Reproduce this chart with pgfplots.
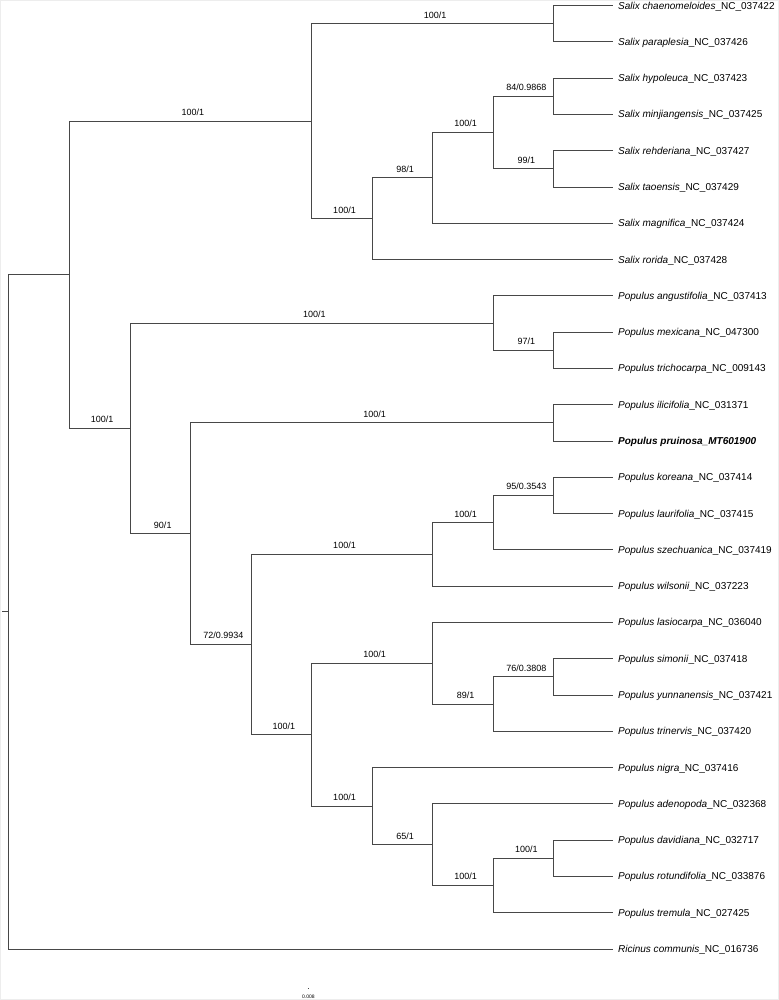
\documentclass[border=0pt]{standalone}
\usepackage{fontspec}
\setmainfont{Liberation Sans}
\usepackage{pgfplots}
\pgfplotsset{compat=1.18}

% branch style and label styles
\tikzset{
  br/.style={draw=black!72, line width=0.8bp},
  bs/.style={anchor=base, inner sep=0pt, font=\fontsize{9bp}{10bp}\selectfont, xshift=2.5bp},
  tip/.style={anchor=base west, inner sep=0pt, font=\fontsize{10bp}{12bp}\selectfont},
}
\newcommand{\leaf}[2]{\node[tip] at (axis cs:617,#1+3.6) {#2};}
\newcommand{\supp}[3]{\node[bs] at (axis cs:#1,#2-5.5) {#3};}

\begin{document}
\begin{tikzpicture}
\begin{axis}[
    width=779bp, height=1000bp, scale only axis,
    xmin=0, xmax=779, ymin=0, ymax=1000, y dir=reverse,
    hide axis, clip=false,
]
% faint frame of the original figure
\path[draw=black!7, line width=1bp] (axis cs:0.5,0.5) rectangle (axis cs:777,998);

% ---- Salix clade ----
\addplot[br] coordinates {(612,5.5) (553,5.5) (553,41.7) (612,41.7)};
\addplot[br] coordinates {(612,78.0) (553,78.0) (553,114.2) (612,114.2)};
\addplot[br] coordinates {(612,150.4) (553,150.4) (553,186.7) (612,186.7)};
\addplot[br] coordinates {(553,96.1) (493,96.1) (493,168.55) (553,168.55)};
\addplot[br] coordinates {(493,132.3) (432,132.3) (432,222.9) (612,222.9)};
\addplot[br] coordinates {(432,177.6) (372,177.6) (372,259.1) (612,259.1)};
\addplot[br] coordinates {(553,23.6) (311,23.6) (311,218.35) (372,218.35)};

% ---- Populus clade ----
\addplot[br] coordinates {(612,331.6) (553,331.6) (553,367.8) (612,367.8)};
\addplot[br] coordinates {(612,295.3) (493,295.3) (493,349.7) (553,349.7)};
\addplot[br] coordinates {(612,404.0) (553,404.0) (553,440.3) (612,440.3)};
\addplot[br] coordinates {(612,476.5) (553,476.5) (553,512.7) (612,512.7)};
\addplot[br] coordinates {(553,494.6) (493,494.6) (493,548.9) (612,548.9)};
\addplot[br] coordinates {(493,521.75) (432,521.75) (432,585.2) (612,585.2)};
\addplot[br] coordinates {(612,657.6) (553,657.6) (553,693.9) (612,693.9)};
\addplot[br] coordinates {(553,675.75) (493,675.75) (493,730.1) (612,730.1)};
\addplot[br] coordinates {(612,621.4) (432,621.4) (432,702.9) (493,702.9)};
\addplot[br] coordinates {(612,838.8) (553,838.8) (553,875.0) (612,875.0)};
\addplot[br] coordinates {(553,856.9) (493,856.9) (493,911.3) (612,911.3)};
\addplot[br] coordinates {(612,802.6) (432,802.6) (432,884.1) (493,884.1)};
\addplot[br] coordinates {(612,766.3) (372,766.3) (372,843.35) (432,843.35)};
\addplot[br] coordinates {(432,662.15) (311,662.15) (311,804.8) (372,804.8)};
\addplot[br] coordinates {(432,553.5) (251,553.5) (251,733.5) (311,733.5)};
\addplot[br] coordinates {(553,422.15) (190,422.15) (190,643.5) (251,643.5)};
\addplot[br] coordinates {(493,322.5) (130,322.5) (130,532.8) (190,532.8)};

% ---- backbone ----
\addplot[br] coordinates {(311,121.0) (69,121.0) (69,427.65) (130,427.65)};
\addplot[br] coordinates {(69,274.3) (8,274.3) (8,947.5) (612,947.5)};
\addplot[br] coordinates {(2,610.9) (8,610.9)};

% scale bar
\addplot[br] coordinates {(307.5,987) (308.5,987)};
\node[inner sep=0pt, font=\fontsize{5bp}{6bp}\selectfont] at (axis cs:308,995) {0.008};

% support values (bootstrap / posterior)
\supp{432}{23.6}{100/1}
\supp{523}{96.1}{84/0.9868}
\supp{523}{168.55}{99/1}
\supp{462.5}{132.3}{100/1}
\supp{402}{177.6}{98/1}
\supp{341.5}{218.35}{100/1}
\supp{190}{121.0}{100/1}
\supp{523}{349.7}{97/1}
\supp{311.5}{322.5}{100/1}
\supp{371.5}{422.15}{100/1}
\supp{523}{494.6}{95/0.3543}
\supp{462.5}{521.75}{100/1}
\supp{341.5}{553.5}{100/1}
\supp{523}{675.75}{76/0.3808}
\supp{462.5}{702.9}{89/1}
\supp{371.5}{662.15}{100/1}
\supp{523}{856.9}{100/1}
\supp{462.5}{884.1}{100/1}
\supp{402}{843.35}{65/1}
\supp{341.5}{804.8}{100/1}
\supp{281}{733.5}{100/1}
\supp{220.5}{643.5}{72/0.9934}
\supp{160}{532.8}{90/1}
\supp{99.5}{427.65}{100/1}

% tip labels
\leaf{5.5}{\textit{Salix chaenomeloides}\_NC\_037422}
\leaf{41.7}{\textit{Salix paraplesia}\_NC\_037426}
\leaf{78.0}{\textit{Salix hypoleuca}\_NC\_037423}
\leaf{114.2}{\textit{Salix minjiangensis}\_NC\_037425}
\leaf{150.4}{\textit{Salix rehderiana}\_NC\_037427}
\leaf{186.7}{\textit{Salix taoensis}\_NC\_037429}
\leaf{222.9}{\textit{Salix magnifica}\_NC\_037424}
\leaf{259.1}{\textit{Salix rorida}\_NC\_037428}
\leaf{295.3}{\textit{Populus angustifolia}\_NC\_037413}
\leaf{331.6}{\textit{Populus mexicana}\_NC\_047300}
\leaf{367.8}{\textit{Populus trichocarpa}\_NC\_009143}
\leaf{404.0}{\textit{Populus ilicifolia}\_NC\_031371}
\leaf{440.3}{\textbf{\textit{Populus pruinosa\_MT601900}}}
\leaf{476.5}{\textit{Populus koreana}\_NC\_037414}
\leaf{512.7}{\textit{Populus laurifolia}\_NC\_037415}
\leaf{548.9}{\textit{Populus szechuanica}\_NC\_037419}
\leaf{585.2}{\textit{Populus wilsonii}\_NC\_037223}
\leaf{621.4}{\textit{Populus lasiocarpa}\_NC\_036040}
\leaf{657.6}{\textit{Populus simonii}\_NC\_037418}
\leaf{693.9}{\textit{Populus yunnanensis}\_NC\_037421}
\leaf{730.1}{\textit{Populus trinervis}\_NC\_037420}
\leaf{766.3}{\textit{Populus nigra}\_NC\_037416}
\leaf{802.6}{\textit{Populus adenopoda}\_NC\_032368}
\leaf{838.8}{\textit{Populus davidiana}\_NC\_032717}
\leaf{875.0}{\textit{Populus rotundifolia}\_NC\_033876}
\leaf{911.3}{\textit{Populus tremula}\_NC\_027425}
\leaf{947.5}{\textit{Ricinus communis}\_NC\_016736}
\end{axis}
\end{tikzpicture}
\end{document}
